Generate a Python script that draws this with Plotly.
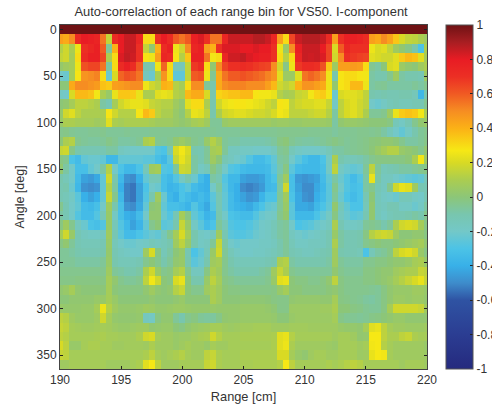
import plotly.graph_objects as go

ranges = [190 + 0.5 * i for i in range(61)]
angles = list(range(0, 370, 10))

r000 = [100] * 61
r010 = [45,42,50,72,80,78,76,55,15,72, 80,85,85,75,30,30,70,80,72,60, 55,60,78,82,70,55,55,75,85,85, 85,85,88,88,85,75,45,30,65,85, 88,88,88,85,72,45,70,78,78,76, 72,45,42,50,44,35,20,15,14,10,6]
r020 = [12,18,10,25,70,74,78,60,-6,40, 80,85,85,70,15,2,40,72,78,25, 18,50,75,78,45,40,70,82,82,82, 80,80,82,80,80,70,25,5,50,78, 85,85,85,80,65,20,60,74,70,70, 70,25,20,22,15,6,2,-3,-10,-30,10]
r030 = [15,18,8,30,72,78,78,65,10,30, 82,86,84,70,28,25,45,75,72,28, 12,35,78,78,55,26,30,75,84,84, 86,82,80,78,78,70,30,12,30,75, 85,84,85,82,65,18,50,70,68,66, 65,22,20,18,18,22,34,38,36,22,8]
r040 = [3,6,8,25,62,65,65,55,-8,30, 72,78,72,60,-10,-12,25,58,30,-15, -15,15,68,72,30,2,50,65,70,70, 72,70,68,66,65,50,18,-3,25,68, 72,72,70,62,35,5,45,45,46,45, 30,-5,-8,0,20,22,5,2,0,6,10]
r050 = [-20,-22,8,28,48,50,52,30,-22,20, 58,62,60,55,-15,-22,10,48,30,-25, -25,15,60,62,25,-5,42,55,60,60, 62,60,58,56,52,48,22,5,5,22, 55,58,55,50,25,-10,28,30,30,28, 26,-8,-10,-10,-4,6,-8,-10,-10,-12,5]
r060 = [0,0,42,50,50,48,46,36,34,45, 46,48,50,50,25,18,14,40,38,12, 8,30,50,50,-6,-10,42,50,52,52, 52,50,50,50,45,38,18,14,18,40, 48,48,45,42,25,2,28,30,38,38, 25,-8,-6,-5,-8,-8,-8,-8,-6,-8,-4]
r070 = [-18,-20,20,38,38,36,26,10,4,24, 35,35,34,24,10,10,22,24,22,12, 10,38,42,42,20,-10,32,34,36,36, 38,38,28,26,26,24,12,8,10,16, 18,26,32,34,26,-22,20,22,22,20, 14,-10,-12,-10,-12,-12,-10,-10,-14,-36,-10]
r080 = [0,2,8,14,14,12,10,-8,-12,8, 18,22,24,24,22,16,14,12,12,6, 2,22,30,30,10,-10,18,24,26,28, 28,26,24,22,18,14,28,26,14,18, 20,20,22,22,16,-18,14,20,22,18, 14,-20,-22,-18,-14,-12,-14,-14,-12,-12,-5]
r090 = [3,18,22,14,10,10,10,10,28,18, 12,12,12,28,38,34,14,10,10,4, 0,12,24,22,14,-10,10,18,20,22, 22,20,18,18,16,20,26,24,14,14, 14,16,18,18,12,-8,14,20,22,18, 10,-6,-6,-4,6,24,34,36,34,26,10]
r100 = [4,10,10,8,8,8,6,8,22,10, 8,10,10,10,10,8,6,6,6,4, 2,4,8,10,6,-6,-6,4,6,6, 6,6,6,6,6,4,5,5,4,4, 5,5,5,5,4,-8,2,4,4,3, 2,0,0,0,-2,-14,-18,-12,-4,2,4]
r110 = [-4,-3,-5,-6,-6,-5,-5,-4,-6,-6, -6,-5,-6,-6,-6,-5,-5,-5,-5,-5, -5,-5,-5,-5,-5,-5,-6,-6,-6,-6, -5,-5,-5,-5,-5,-5,-4,-4,-4,-4, -4,-5,-5,-5,-5,-7,-5,-5,-5,-4, -4,-5,-4,-8,-14,-20,-24,-18,-10,-6,-4]
r120 = [0,10,12,-4,-6,-7,-7,-6,-3,-5, -8,-8,-7,-5,10,12,-5,-6,-4,2, 5,2,-4,-6,4,12,6,-6,-8,-8, -10,-10,-10,-10,-9,-7,-2,0,-5,-7, -8,-8,-7,-6,-4,-2,-4,-6,-5,-4, -3,-1,0,2,2,0,-4,-8,-8,-6,-3]
r130 = [16,18,-3,-10,-12,-12,-12,-12,-8,-8, -16,-18,-20,-20,-20,-20,-28,-30,-12,20, 26,20,-10,-12,-6,8,10,-6,-16,-16, -18,-18,-20,-20,-20,-16,-6,-4,-14,-18, -20,-20,-20,-18,-14,-8,-8,-6,-5,-4, -3,0,4,8,12,12,4,2,0,-4,2]
r140 = [-2,-4,-30,-34,-24,-22,-22,-24,-36,-36, -24,-24,-24,-24,-26,-26,-32,-36,-26,16, 24,18,-8,-12,-6,6,0,-12,-16,-20, -22,-28,-34,-34,-30,-24,-8,-6,-20,-26, -32,-36,-36,-30,-18,10,-10,-14,-14,-12, -8,-4,-2,-2,-2,-2,-2,0,10,26,6]
r150 = [2,-8,-20,-32,-32,-24,-20,-8,12,-20, -30,-36,-36,-30,-14,6,8,-28,-30,-6, 18,16,-8,-18,-14,-2,-8,-20,-28,-30, -34,-36,-36,-36,-34,-26,-10,-2,-26,-34, -36,-36,-36,-32,-18,14,-18,-22,-24,-22, -6,14,-6,-14,-12,-10,-8,-8,-6,-4,-3]
r160 = [-10,-14,-20,-34,-44,-46,-42,-24,18,-10, -36,-48,-50,-40,-24,-14,-14,-32,-36,-28, -18,-10,-22,-34,-40,-8,-12,-28,-36,-36, -44,-46,-46,-44,-36,-30,-6,6,-32,-46, -48,-46,-44,-34,-24,-8,-22,-28,-34,-28, -8,24,-8,-16,-16,-20,-22,-24,-26,-24,-14]
r170 = [-12,-10,-22,-36,-48,-50,-48,-24,12,-8, -40,-52,-54,-44,-30,-20,-22,-32,-38,-36, -30,-26,-34,-38,-40,-20,-8,-26,-36,-40, -50,-52,-50,-46,-36,-34,-8,18,-32,-44, -50,-50,-42,-36,-26,-4,-20,-28,-32,-30, -8,-4,-12,-16,-4,18,24,22,6,-12,-12]
r180 = [-12,-14,-18,-26,-40,-44,-40,-24,16,-4, -36,-52,-54,-44,-28,-10,6,-22,-36,-40, -30,-34,-38,-34,-38,-26,-12,-24,-34,-40, -44,-48,-46,-38,-30,-30,-6,6,-30,-42, -48,-50,-40,-34,-26,-6,-22,-30,-34,-30, -12,0,-14,-18,-20,-22,-14,-14,-18,-20,-12]
r190 = [-4,-12,-20,-24,-34,-36,-32,-20,6,-10, -32,-48,-50,-42,-24,0,2,-24,-32,-32, -34,-38,-28,-36,-42,-28,-12,-24,-34,-38, -40,-42,-36,-30,-24,-22,-6,4,-26,-42, -42,-44,-36,-30,-24,2,-14,-24,-30,-30, -14,2,-14,-16,-12,-12,-18,-18,-22,-18,-8]
r200 = [-8,-12,-20,-28,-34,-34,-28,-14,4,-18, -32,-40,-42,-34,-20,2,2,-22,-28,-12, 8,-2,-24,-30,-38,-34,-10,-20,-30,-32, -34,-34,-28,-22,-20,-18,-4,2,-26,-36, -36,-36,-30,-24,-18,-2,-16,-22,-26,-24, -12,2,-14,-18,-14,-12,-12,-10,-8,-10,-4]
r210 = [-2,6,-4,-16,-22,-30,-32,-28,4,-14, -28,-36,-44,-38,-24,-4,0,-26,-24,-10, 16,4,-18,-26,-34,-30,-6,-14,-28,-30, -30,-28,-24,-20,-18,-14,-8,-6,-20,-30, -28,-26,-22,-20,-16,10,-12,-18,-18,-16, -6,-4,-6,-10,-6,10,18,20,18,8,-2]
r220 = [8,18,4,-12,-16,-18,-18,-16,6,-12, -26,-34,-34,-30,-26,-22,-24,-14,-4,8, 20,8,-10,-18,-20,-16,6,-12,-26,-28, -28,-26,-22,-20,-18,-14,-8,-6,-16,-20, -22,-20,-18,-16,-12,4,-8,-12,-12,-10, -2,12,16,18,16,6,0,0,2,2,-2]
r230 = [-2,2,-6,-12,-14,-14,-14,-12,4,-14, -20,-22,-22,-20,-18,-14,-16,-14,-10,6, 14,4,-10,-18,-16,-6,16,-8,-20,-22, -20,-20,-20,-18,-18,-16,-10,-6,-14,-18, -18,-16,-16,-16,-12,10,-8,-12,-12,-10, -4,-2,0,-2,-2,0,2,4,6,8,2]
r240 = [-6,-6,-8,-10,-12,-12,-12,-10,3,-12, -16,-18,-20,-20,6,20,-2,-14,-8,0, 4,-12,-30,-24,-14,4,18,-6,-14,-18, -20,-20,-18,-18,-16,-14,-10,-6,-12,-14, -16,-16,-14,-12,-10,6,-10,-12,-12,-14, -30,-14,-8,-6,-2,14,20,22,18,4,-2]
r250 = [-6,-6,-6,-8,-8,-8,-8,-6,4,-10, -14,-14,-14,-12,-4,0,-4,-10,-6,2, 4,-10,-26,-22,-10,6,8,-4,-10,-14, -14,-14,-14,-14,-12,-10,10,12,-8,-10, -10,-10,-10,-10,-8,6,-6,-8,-8,-8, -4,-4,-2,-2,0,2,2,4,8,10,4]
r260 = [-4,-4,-4,-4,-4,-4,-4,-4,6,-6, -8,-10,-10,-8,10,18,4,-4,-2,8, 12,-4,-16,-16,-2,10,6,-4,-8,-10, -10,-10,-10,-8,-6,6,16,10,-4,-6, -6,-6,-6,-6,-6,2,-4,-6,-6,-6, -2,-2,0,2,2,6,8,10,10,16,14]
r270 = [-3,-3,-3,-2,-2,-2,-2,-2,8,2, -4,-6,-6,-4,14,26,18,0,-2,20, 24,0,-10,-10,4,14,8,-2,-4,-6, -6,-6,-6,-6,-4,4,22,24,0,-2, -2,-4,-4,-2,2,14,-2,-4,-4,-4, -2,-2,0,2,4,8,12,16,20,24,16]
r280 = [2,4,8,2,0,0,0,0,8,0, -2,-2,-2,-2,2,6,2,0,2,12, 16,0,-4,-4,6,10,6,0,-2,-2, -3,-3,-3,-3,-3,-2,4,8,0,0, -2,-2,-2,-2,0,2,-2,-4,-4,-4, -4,-5,-6,-2,2,4,4,4,6,6,4]
r290 = [0,0,2,2,2,2,4,4,8,4, 0,0,0,0,0,2,0,0,0,2, 4,0,0,0,0,10,6,0,0,0, 1,1,1,1,0,-2,-3,-3,2,3, 3,3,3,2,2,8,-2,-3,-4,-5, -7,-8,-6,-2,2,5,5,4,5,5,3]
r300 = [4,3,3,3,4,4,8,25,12,6, 3,3,3,4,6,5,3,3,4,5, 5,4,3,3,3,4,3,3,3,3, 4,4,4,4,3,1,-3,-3,5,5, 5,5,5,6,6,10,0,0,-2,-3, -5,-6,-6,-2,8,18,18,18,18,16,6]
r310 = [14,12,6,4,4,4,6,18,8,3, 2,2,2,3,-16,-18,-2,2,2,-6, -10,-4,-2,-6,-7,-7,-3,2,3,3, 4,4,4,4,4,3,0,0,4,5, 5,5,5,5,5,8,-3,-5,-5,-6, -5,-3,-2,0,2,4,4,2,2,2,2]
r320 = [16,14,8,7,6,6,7,8,7,5, 4,4,5,6,6,2,3,4,4,0, -2,2,4,5,6,8,8,6,5,6, 7,7,8,8,8,6,6,6,7,7, 7,6,6,6,6,6,4,3,3,2, 8,22,24,14,8,6,6,5,5,5,6]
r330 = [14,12,8,8,8,8,9,10,8,8, 7,7,7,10,18,20,8,6,6,4, 5,5,7,9,10,18,12,8,8,8, 9,9,9,9,9,10,22,24,12,8, 8,8,8,8,8,6,8,8,6,2, 3,27,27,14,10,10,14,16,10,8,8]
r340 = [20,14,4,4,8,10,10,8,8,6, 6,7,7,7,6,10,6,6,6,4, 6,8,6,6,4,8,6,6,8,8, 8,8,8,8,8,10,22,25,10,6, 6,6,6,6,5,4,8,8,8,6, 8,26,27,12,8,6,6,6,6,6,4]
r350 = [16,14,8,8,8,8,8,8,8,8, 8,8,8,8,10,14,8,6,8,10, 12,8,6,6,14,16,10,8,8,8, 10,10,10,10,10,10,20,20,8,4, 2,6,8,8,6,6,8,8,8,5, 6,24,27,26,8,6,6,6,6,6,5]
r360 = [6,6,8,8,8,8,8,8,6,6, 6,6,8,10,22,27,14,6,6,6, 8,8,8,8,16,18,10,8,8,8, 9,9,10,10,10,10,12,27,14,8, 8,8,8,8,10,8,10,12,14,12, 8,8,8,8,8,8,6,8,8,8,6]

rows = [r000, r010, r020, r030, r040, r050, r060, r070, r080, r090, r100, r110,
        r120, r130, r140, r150, r160, r170, r180, r190, r200, r210, r220, r230,
        r240, r250, r260, r270, r280, r290, r300, r310, r320, r330, r340, r350, r360]
z = [[v / 100 for v in r] for r in rows]

stops = [
    (-1.0, "#252a7e"), (-0.8, "#2b3d92"), (-0.6, "#2f53a3"), (-0.5, "#3e8ccb"),
    (-0.4, "#38b0e8"), (-0.3, "#4cc3e6"), (-0.2, "#73c8c8"), (-0.1, "#78c6ae"),
    (0.0, "#8cc678"), (0.1, "#abcd50"), (0.2, "#d8da24"), (0.27, "#f6e815"),
    (0.4, "#fbb116"), (0.5, "#f68d22"), (0.6, "#f05a23"), (0.7, "#ec2f24"),
    (0.8, "#e81c24"), (0.9, "#a81e22"), (1.0, "#6f1214"),
]
colorscale = [[(v + 1) / 2, c] for v, c in stops]

TXT = "#333333"
FONT = "Liberation Sans"

fig = go.Figure(go.Heatmap(
    x=ranges, y=angles, z=z, zmin=-1, zmax=1, colorscale=colorscale,
    colorbar=dict(
        x=1.052, xanchor="left", y=0.5, yanchor="middle", len=1, lenmode="fraction",
        thickness=27, thicknessmode="pixels", xpad=0, ypad=0,
        tickvals=[-1, -0.8, -0.6, -0.4, -0.2, 0, 0.2, 0.4, 0.6, 0.8, 1],
        ticktext=["-1", "-0.8", "-0.6", "-0.4", "-0.2", "0", "0.2", "0.4", "0.6", "0.8", "1"],
        ticks="inside", ticklen=3, tickcolor="#222222", outlinecolor="#555555", outlinewidth=1,
        tickfont=dict(family=FONT, size=12, color=TXT),
    ),
))
fig.update_layout(
    width=492, height=410, autosize=False,
    margin=dict(l=60, r=65, t=25, b=41, autoexpand=False),
    paper_bgcolor="white", plot_bgcolor="white",
    font=dict(family=FONT, size=12, color=TXT),
    title=dict(text="Auto-correlaction of each range bin for VS50. I-component",
               x=0.49, xanchor="center", y=0.973, yanchor="middle",
               font=dict(family=FONT, size=12.9, color=TXT)),
    xaxis=dict(range=[190, 220], tickvals=[190, 195, 200, 205, 210, 215, 220], ticks="inside",
               ticklen=3, tickcolor="#222222", showline=True, linecolor="#444444", linewidth=1,
               mirror="ticks", showgrid=False, zeroline=False,
               title=dict(text="Range [cm]", standoff=5, font=dict(size=12.8)),
               tickfont=dict(size=12)),
    yaxis=dict(range=[365, -5], tickvals=[0, 50, 100, 150, 200, 250, 300, 350], ticks="inside",
               ticklen=3, tickcolor="#222222", showline=True, linecolor="#444444", linewidth=1,
               mirror="ticks", showgrid=False, zeroline=False,
               title=dict(text="Angle [deg]", standoff=9, font=dict(size=12.5)),
               tickfont=dict(size=12)),
)
fig.write_html("out.html", config={"displayModeBar": False},
               post_script="document.body.style.margin='0';")
